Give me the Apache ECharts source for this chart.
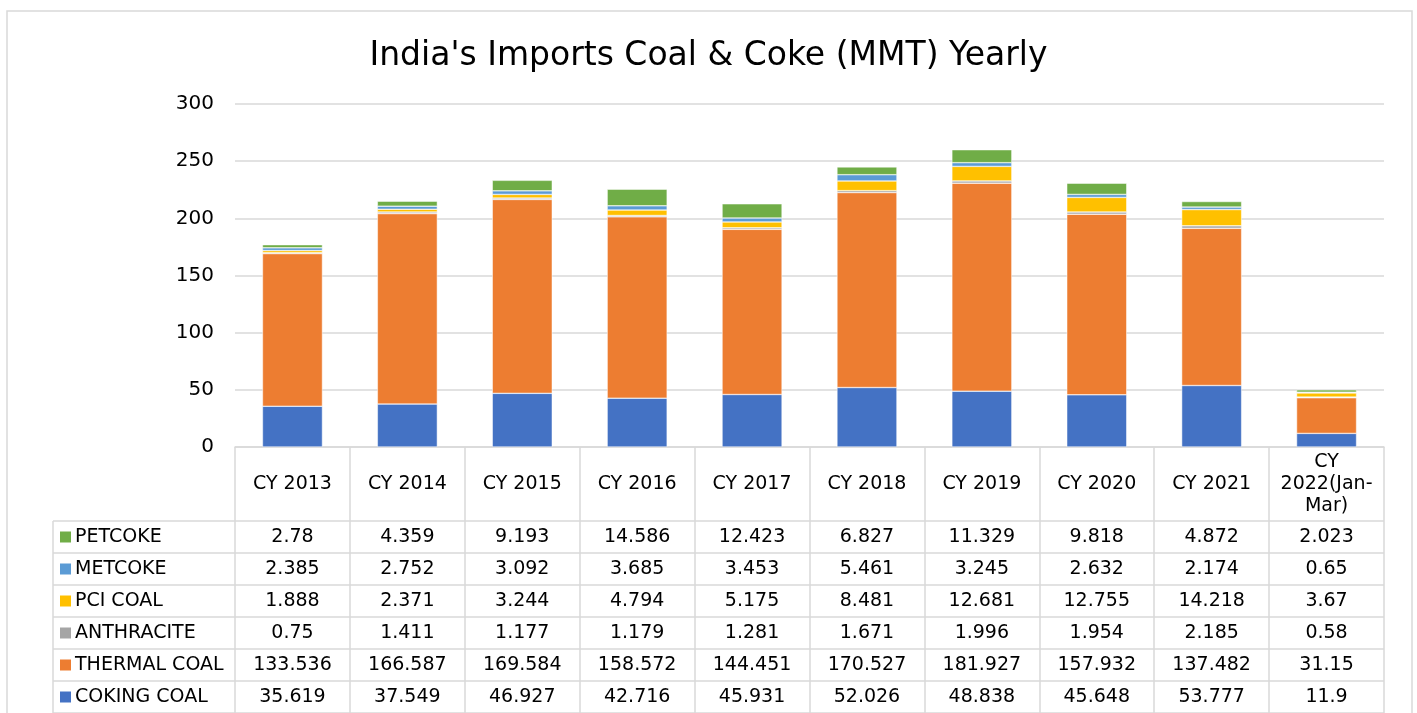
<!DOCTYPE html>
<html>
<head>
<meta charset="utf-8">
<title>India's Imports Coal & Coke</title>
<script src="https://cdn.jsdelivr.net/npm/echarts@6/dist/echarts.min.js"></script>
<style>
html, body { margin: 0; padding: 0; background: #fff; }
#chart { width: 1417px; height: 713px; }
</style>
</head>
<body>
<div id="chart"></div>
<script>
// data (MMT)
var years = ['CY 2013', 'CY 2014', 'CY 2015', 'CY 2016', 'CY 2017', 'CY 2018', 'CY 2019', 'CY 2020', 'CY 2021', 'CY 2022(Jan-Mar)'];
var cokingCoal = [35.619, 37.549, 46.927, 42.716, 45.931, 52.026, 48.838, 45.648, 53.777, 11.9];
var thermalCoal = [133.536, 166.587, 169.584, 158.572, 144.451, 170.527, 181.927, 157.932, 137.482, 31.15];
var anthracite = [0.75, 1.411, 1.177, 1.179, 1.281, 1.671, 1.996, 1.954, 2.185, 0.58];
var pciCoal = [1.888, 2.371, 3.244, 4.794, 5.175, 8.481, 12.681, 12.755, 14.218, 3.67];
var metcoke = [2.385, 2.752, 3.092, 3.685, 3.453, 5.461, 3.245, 2.632, 2.174, 0.65];
var petcoke = [2.78, 4.359, 9.193, 14.586, 12.423, 6.827, 11.329, 9.818, 4.872, 2.023];
var yTicks = [0, 50, 100, 150, 200, 250, 300];

var seriesNames = ['COKING COAL', 'THERMAL COAL', 'ANTHRACITE', 'PCI COAL', 'METCOKE', 'PETCOKE'];
var seriesData = [cokingCoal, thermalCoal, anthracite, pciCoal, metcoke, petcoke];
var colors = ['#4472C4', '#ED7D31', '#A5A5A5', '#FFC000', '#5B9BD5', '#70AD47'];

var FONT = 'DejaVu Sans';
var gridLeft = 235, gridRight = 33, gridTop = 104, gridBottom = 266;
var rowTop = 521, rowH = 32, labelColX = 53;

var chart = echarts.init(document.getElementById('chart'));

var option = {
	animation: false,
	color: colors,
	title: {
		text: "India's Imports Coal & Coke (MMT) Yearly",
		left: 'center',
		top: 35,
		textStyle: {
			fontFamily: FONT,
			fontSize: 33,
			fontWeight: 'normal',
			color: '#000'
		}
	},
	grid: {
		left: gridLeft,
		right: gridRight,
		top: gridTop,
		bottom: gridBottom
	},
	xAxis: {
		type: 'category',
		data: years,
		axisLine: { lineStyle: { color: '#d9d9d9', width: 1.5 } },
		// ticks used as the table's column lines
		axisTick: { show: true, length: 266, lineStyle: { color: '#d9d9d9', width: 1.5 } },
		axisLabel: {
			interval: 0,
			margin: 37,
			verticalAlign: 'middle',
			lineHeight: 22,
			fontFamily: FONT,
			fontSize: 19,
			color: '#000',
			formatter: function (v) {
				// long label wraps like the excel table header
				if (v.length > 10) return v.replace(' ', '\n').replace('-', '-\n');
				return v;
			}
		}
	},
	yAxis: {
		type: 'value',
		min: yTicks[0],
		max: yTicks[yTicks.length - 1],
		interval: 50,
		axisLine: { show: false },
		axisTick: { show: false },
		axisLabel: { margin: 21, fontFamily: FONT, fontSize: 20, color: '#000' },
		splitLine: { lineStyle: { color: '#d9d9d9', width: 1.5 } }
	},
	series: seriesNames.map(function (name, i) {
		return {
			name: name,
			type: 'bar',
			stack: 'total',
			barWidth: 60,
			data: seriesData[i],
			itemStyle: { color: colors[i], borderColor: '#fff', borderWidth: 0.5 }
		};
	})
};
chart.setOption(option);

// data table under the plot
var g = [];
g.push({
	type: 'rect',
	shape: { x: 7, y: 11, width: 1405, height: 720 },
	style: { fill: 'none', stroke: '#d9d9d9', lineWidth: 1.5 },
	silent: true
});
var rightX = 1417 - gridRight;
for (var k = 0; k <= seriesNames.length; k++) {
	g.push({
		type: 'line',
		shape: { x1: labelColX, y1: rowTop + k * rowH, x2: rightX, y2: rowTop + k * rowH },
		style: { stroke: '#d9d9d9', lineWidth: 1.5 },
		silent: true
	});
}
g.push({
	type: 'line',
	shape: { x1: labelColX, y1: rowTop, x2: labelColX, y2: 713 },
	style: { stroke: '#d9d9d9', lineWidth: 1.5 },
	silent: true
});
// rows top-down: petcoke first
for (var r = 0; r < seriesNames.length; r++) {
	var si = seriesNames.length - 1 - r;
	var cy = rowTop + r * rowH + rowH / 2;
	g.push({
		type: 'rect',
		shape: { x: 60, y: cy - 5.5, width: 11, height: 11 },
		style: { fill: colors[si] },
		silent: true
	});
	g.push({
		type: 'text',
		x: 75, y: cy,
		style: { text: seriesNames[si], font: '19px "' + FONT + '"', fill: '#000', verticalAlign: 'middle' },
		silent: true
	});
	for (var c = 0; c < years.length; c++) {
		var cx = chart.convertToPixel({ xAxisIndex: 0 }, c);
		g.push({
			type: 'text',
			x: cx, y: cy,
			style: { text: String(seriesData[si][c]), font: '19px "' + FONT + '"', fill: '#000', align: 'center', verticalAlign: 'middle' },
			silent: true
		});
	}
}
chart.setOption({ graphic: g });

window.addEventListener('resize', function () {
	chart.resize();
});
</script>
</body>
</html>
